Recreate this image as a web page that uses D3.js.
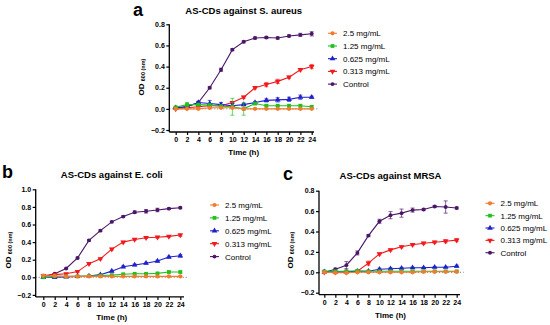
<!DOCTYPE html>
<html><head><meta charset="utf-8">
<script src="https://cdn.jsdelivr.net/npm/d3@7"></script>
<style>body{margin:0;background:#fff;} svg{display:block;font-family:"Liberation Sans",Arial,sans-serif;}</style>
</head><body>
<svg id="c" width="550" height="325"></svg>
<script>
const times = [0,2,4,6,8,10,12,14,16,18,20,22,24];
const xTickLabels = ["0","2","4","6","8","10","12","14","16","18","20","22","24"];
const seriesNames = ["2.5 mg/mL","1.25 mg/mL","0.625 mg/mL","0.313 mg/mL","Control"];
const seriesColors = ["#F47A2E","#22C01E","#1F1FCC","#F2181C","#4B1667"];

// Panel a: S. aureus
const aOrange = [0.0,0.0,0.0,0.01,0.01,0.01,0.0,0.0,0.0,0.0,0.0,0.0,0.0];
const aGreen  = [0.015,0.04,0.04,0.035,0.025,0.02,0.0,0.05,0.03,0.03,0.03,0.03,0.02];
const aBlue   = [0.01,0.02,0.06,0.05,0.04,0.03,0.04,0.06,0.08,0.085,0.09,0.11,0.11];
const aRed    = [0.0,0.01,0.02,0.03,0.03,0.06,0.11,0.20,0.23,0.26,0.30,0.37,0.40];
const aCtrl   = [0.01,0.02,0.06,0.20,0.37,0.56,0.635,0.67,0.675,0.67,0.69,0.70,0.71];
const aOrangeErr = [0.005,0.005,0.005,0.005,0.005,0.005,0.005,0.005,0.005,0.005,0.005,0.005,0.005];
const aGreenErr  = [0.005,0.02,0.01,0.01,0.01,0.08,0.06,0.01,0.01,0.005,0.01,0.01,0.01];
const aBlueErr   = [0.005,0.01,0.01,0.03,0.02,0.02,0.01,0.01,0.015,0.02,0.02,0.02,0.01];
const aRedErr    = [0.005,0.005,0.005,0.005,0.005,0.01,0.01,0.01,0.02,0.02,0.01,0.01,0.02];
const aCtrlErr   = [0.01,0.01,0.01,0.01,0.015,0.01,0.01,0.01,0.01,0.01,0.01,0.015,0.02];

// Panel b: E. coli
const bOrange = [0.02,0.015,0.01,0.01,0.01,0.01,0.01,0.01,0.01,0.01,0.01,0.01,0.01];
const bGreen  = [0.0,0.01,0.01,0.01,0.015,0.02,0.025,0.035,0.04,0.04,0.045,0.06,0.06];
const bBlue   = [0.0,0.0,0.005,0.01,0.015,0.03,0.07,0.12,0.14,0.16,0.185,0.23,0.245];
const bRed    = [0.02,0.03,0.04,0.065,0.155,0.21,0.32,0.40,0.43,0.45,0.455,0.465,0.48];
const bCtrl   = [0.01,0.04,0.10,0.22,0.42,0.53,0.63,0.69,0.74,0.75,0.765,0.78,0.79];
const bOrangeErr = [0.005,0.005,0.005,0.005,0.005,0.005,0.005,0.005,0.005,0.005,0.005,0.005,0.005];
const bGreenErr  = [0.005,0.005,0.005,0.005,0.005,0.005,0.005,0.005,0.005,0.005,0.005,0.01,0.01];
const bBlueErr   = [0.005,0.005,0.005,0.005,0.005,0.005,0.01,0.01,0.01,0.01,0.01,0.01,0.015];
const bRedErr    = [0.005,0.005,0.005,0.01,0.01,0.01,0.01,0.01,0.01,0.01,0.01,0.01,0.015];
const bCtrlErr   = [0.005,0.005,0.005,0.01,0.01,0.01,0.01,0.01,0.015,0.02,0.02,0.01,0.01];

// Panel c: MRSA
const cOrange = [0.0,-0.005,-0.005,0.0,0.0,0.0,0.0,0.0,0.0,0.005,0.005,0.005,0.005];
const cGreen  = [0.01,0.01,0.01,0.015,0.01,0.01,0.01,0.01,0.01,0.01,0.01,0.01,0.01];
const cBlue   = [0.005,0.005,0.005,0.01,0.01,0.03,0.035,0.04,0.045,0.045,0.05,0.05,0.06];
const cRed    = [0.0,0.0,0.0,0.01,0.09,0.18,0.22,0.25,0.27,0.285,0.295,0.305,0.315];
const cCtrl   = [0.0,0.03,0.07,0.19,0.36,0.50,0.56,0.58,0.61,0.615,0.645,0.64,0.63];
const cOrangeErr = [0.005,0.005,0.005,0.005,0.005,0.005,0.005,0.005,0.005,0.005,0.005,0.005,0.005];
const cGreenErr  = [0.005,0.005,0.005,0.005,0.005,0.005,0.005,0.005,0.005,0.005,0.005,0.005,0.005];
const cBlueErr   = [0.005,0.005,0.005,0.005,0.005,0.01,0.01,0.005,0.005,0.005,0.005,0.005,0.01];
const cRedErr    = [0.005,0.005,0.005,0.005,0.02,0.01,0.01,0.01,0.01,0.01,0.01,0.015,0.015];
const cCtrlErr   = [0.005,0.01,0.035,0.02,0.01,0.02,0.035,0.04,0.02,0.01,0.01,0.06,0.01];

const svg = d3.select("#c");
const symbols = [d3.symbolCircle, d3.symbolSquare, d3.symbolTriangle, d3.symbolTriangle, d3.symbolCircle];
const symRot = [0,0,0,180,0];
const symSize = [14,14,14,14,12];

function panel(o){
  const g = svg.append("g");
  const x = d3.scaleLinear().domain([0,24]).range([o.x0,o.x24]);
  const y = d3.scaleLinear().domain([o.ymax,-0.2]).range([o.yTop,o.yBot]);
  // zero dotted line
  g.append("line").attr("x1",o.ax).attr("x2",o.x24+7).attr("y1",y(0)).attr("y2",y(0))
    .attr("stroke","#777").attr("stroke-width",1).attr("stroke-dasharray","1,2");
  // y axis
  const ya = g.append("g").attr("transform",`translate(${o.ax},0)`)
    .call(d3.axisLeft(y).tickValues(d3.range(-0.2,o.ymax+0.001,0.2)).tickFormat(d3.format(".1f")).tickSize(3).tickSizeOuter(0));
  ya.select(".domain").attr("stroke","#000").attr("stroke-width",1.3).attr("d",`M0,${y(-0.2)+2}V${y(o.ymax)}`);
  ya.selectAll(".tick line").attr("stroke-width",1.2);
  ya.selectAll("text").attr("font-size",7).attr("font-weight","bold").attr("x",-4.5).attr("fill","#000");
  // x axis
  const xa = g.append("g").attr("transform",`translate(0,${y(-0.2)+2})`)
    .call(d3.axisBottom(x).tickValues(times).tickFormat((d,i)=>xTickLabels[i]).tickSize(3).tickSizeOuter(0));
  xa.select(".domain").attr("stroke-width",1.3).attr("d",`M${o.ax},0H${o.axEnd}`);
  xa.selectAll(".tick line").attr("stroke-width",1.2);
  xa.selectAll("text").attr("font-size",7).attr("font-weight","bold").attr("y",5).attr("fill","#000");
  // titles
  g.append("text").attr("x",(o.x0+o.x24)/2).attr("y",o.titleY).attr("text-anchor","middle")
    .attr("font-size",9.5).attr("font-weight","bold").text(o.title);
  g.append("text").attr("x",o.letterX).attr("y",o.letterY).attr("font-size",18).attr("font-weight","bold").text(o.letter);
  g.append("text").attr("x",(o.x0+o.x24)/2).attr("y",o.timeY).attr("text-anchor","middle")
    .attr("font-size",8).attr("font-weight","bold").text("Time (h)");
  const yl = g.append("text").attr("transform",`translate(${o.ylx},${o.yly}) rotate(-90)`).attr("text-anchor","middle")
    .attr("font-weight","bold");
  yl.append("tspan").attr("font-size",8).text("OD ");
  yl.append("tspan").attr("font-size",5.5).attr("dy",1).text("600 (nm)");
  // series
  const order = [4,3,2,1,0];
  order.forEach(si=>{
    const vals = o.data[si], errs = o.errs[si], col = seriesColors[si];
    const sg = g.append("g");
    sg.selectAll(".eb").data(times).join("path")
      .attr("d",(t,i)=>{const xx=x(t),y1=y(vals[i]+errs[i]),y2=y(vals[i]-errs[i]);
        return `M${xx},${y1}V${y2}M${xx-2},${y1}H${xx+2}M${xx-2},${y2}H${xx+2}`;})
      .attr("stroke",col).attr("stroke-width",0.9).attr("fill","none").attr("opacity",0.75);
    sg.append("path").datum(times).attr("d",d3.line().x(t=>x(t)).y((t,i)=>y(vals[i])))
      .attr("fill","none").attr("stroke",col).attr("stroke-width",1.1);
    sg.selectAll(".m").data(times).join("path")
      .attr("d",d3.symbol(symbols[si],symSize[si]))
      .attr("transform",(t,i)=>`translate(${x(t)},${y(vals[i])}) rotate(${symRot[si]})`)
      .attr("fill",col);
  });
  // legend
  seriesNames.forEach((n,i)=>{
    const ly = o.legY + i*o.legDy;
    g.append("line").attr("x1",o.legX).attr("x2",o.legX+9).attr("y1",ly).attr("y2",ly)
      .attr("stroke",seriesColors[i]).attr("stroke-width",1.1);
    g.append("path").attr("d",d3.symbol(symbols[i],symSize[i]))
      .attr("transform",`translate(${o.legX+4.5},${ly}) rotate(${symRot[i]})`).attr("fill",seriesColors[i]);
    g.append("text").attr("x",o.legX+15).attr("y",ly+3).attr("font-size",8).text(n);
  });
}

panel({x0:175.7,x24:311.7,ax:169.3,axEnd:314,ymax:0.8,yTop:24.3,yBot:130,
  title:"AS-CDs against S. aureus",titleY:13.5,letter:"a",letterX:133,letterY:16,timeY:154.5,ylx:144,yly:77,
  legX:328,legY:33.3,legDy:12.7,
  data:[aOrange,aGreen,aBlue,aRed,aCtrl],errs:[aOrangeErr,aGreenErr,aBlueErr,aRedErr,aCtrlErr]});
panel({x0:43.3,x24:180.3,ax:35.7,axEnd:184,ymax:1.0,yTop:189.3,yBot:294.9,
  title:"AS-CDs against E. coli",titleY:177.5,letter:"b",letterX:2,letterY:178,timeY:319.5,ylx:11,yly:250,
  legX:210,legY:205,legDy:12.9,
  data:[bOrange,bGreen,bBlue,bRed,bCtrl],errs:[bOrangeErr,bGreenErr,bBlueErr,bRedErr,bCtrlErr]});
panel({x0:324.3,x24:456.7,ax:319,axEnd:460,ymax:0.8,yTop:190.7,yBot:292.7,
  title:"AS-CDs against MRSA",titleY:178.5,letter:"c",letterX:283,letterY:180,timeY:318,ylx:293,yly:250,
  legX:485.5,legY:203.3,legDy:12.35,
  data:[cOrange,cGreen,cBlue,cRed,cCtrl],errs:[cOrangeErr,cGreenErr,cBlueErr,cRedErr,cCtrlErr]});
</script>
</body></html>
